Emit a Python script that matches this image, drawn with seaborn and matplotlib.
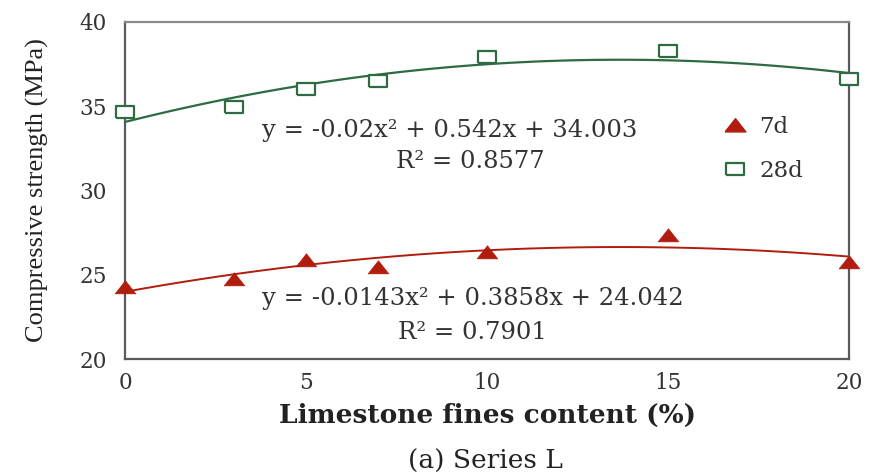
import numpy as np
import pandas as pd
import seaborn as sns
import matplotlib
matplotlib.use("Agg")
import matplotlib.pyplot as plt
from matplotlib.lines import Line2D

# Data
content = [0, 3, 5, 7, 10, 15, 20]
strength_7d = [24.25, 24.75, 25.85, 25.45, 26.35, 27.35, 25.75]
strength_28d = [34.65, 34.95, 36.0, 36.5, 37.9, 38.3, 36.62]
eq_7d = "y = -0.0143x² + 0.3858x + 24.042"
r2_7d = "R² = 0.7901"
eq_28d = "y = -0.02x² + 0.542x + 34.003"
r2_28d = "R² = 0.8577"
xticks = [0, 5, 10, 15, 20]
yticks = [20, 25, 30, 35, 40]

red = "#B01C0E"
green = "#2E6B42"

df = pd.DataFrame({"content": content, "d7": strength_7d, "d28": strength_28d})

sns.set_style("white")
plt.rcParams["font.family"] = ["DejaVu Serif"]

fig = plt.figure(figsize=(8.7, 4.74), dpi=100)
ax = fig.add_axes([0.1437, 0.2426, 0.8322, 0.711])

sns.regplot(data=df, x="content", y="d28", order=2, ci=None, scatter=False,
            ax=ax, line_kws=dict(color=green, lw=1.6))
sns.regplot(data=df, x="content", y="d7", order=2, ci=None, scatter=False,
            ax=ax, line_kws=dict(color=red, lw=1.4))

sq = [(-1.4, -1), (1.4, -1), (1.4, 1), (-1.4, 1), (-1.4, -1)]
tri = [(-1.3, -0.8), (1.3, -0.8), (0, 0.85), (-1.3, -0.8)]
sns.scatterplot(data=df, x="content", y="d28", marker=sq, s=170,
                facecolor="white", edgecolor=green, linewidth=1.6, ax=ax, zorder=5,
                clip_on=False)
sns.scatterplot(data=df, x="content", y="d7", marker=tri, s=220,
                color=red, edgecolor=red, linewidth=0.5, ax=ax, zorder=5,
                clip_on=False)

ax.set_xlim(0, 20)
ax.set_ylim(20, 40)
ax.set_xticks(xticks)
ax.set_yticks(yticks)
ax.tick_params(axis="both", direction="in", length=5, width=1.2, color="#555555",
               labelsize=15.5, labelcolor="#333333")
ax.tick_params(axis="y", pad=13)
ax.tick_params(axis="x", pad=9)
for s in ax.spines.values():
    s.set_color("#5a5a5a")
    s.set_linewidth(1.6)
    s.set_visible(True)
ax.spines["top"].set_color("#8a8a8a")

ax.set_xlabel("Limestone fines content (%)", fontsize=19, fontweight="semibold",
              color="#222222", labelpad=7)
ax.set_ylabel("Compressive strength (MPa)", fontsize=19, family=["Liberation Serif"],
              color="#222222", labelpad=22)

tc = "#333333"
ax.text(3.78, 33.55, eq_28d, fontsize=17.5, ha="left", va="center", color=tc)
ax.text(9.55, 31.75, r2_28d, fontsize=17.5, ha="center", va="center", color=tc)
ax.text(3.78, 23.6, eq_7d, fontsize=17.5, ha="left", va="center", color=tc)
ax.text(9.6, 21.6, r2_7d, fontsize=17.5, ha="center", va="center", color=tc)

handles = [
    Line2D([], [], marker=tri, color=red, linestyle="none", markersize=15, label="7d"),
    Line2D([], [], marker=sq, markerfacecolor="white", markeredgecolor=green,
           markeredgewidth=1.6, linestyle="none", markersize=13, label="28d"),
]
leg = ax.legend(handles=handles, loc="center left", bbox_to_anchor=(0.783, 0.623),
                frameon=False, fontsize=16.5, handletextpad=0.05, labelspacing=0.95)
for t in leg.get_texts():
    t.set_color(tc)

fig.text(0.558, 0.026, "(a) Series L", fontsize=19, ha="center", va="center",
         color="#222222")

fig.savefig("out.png", dpi=100)
